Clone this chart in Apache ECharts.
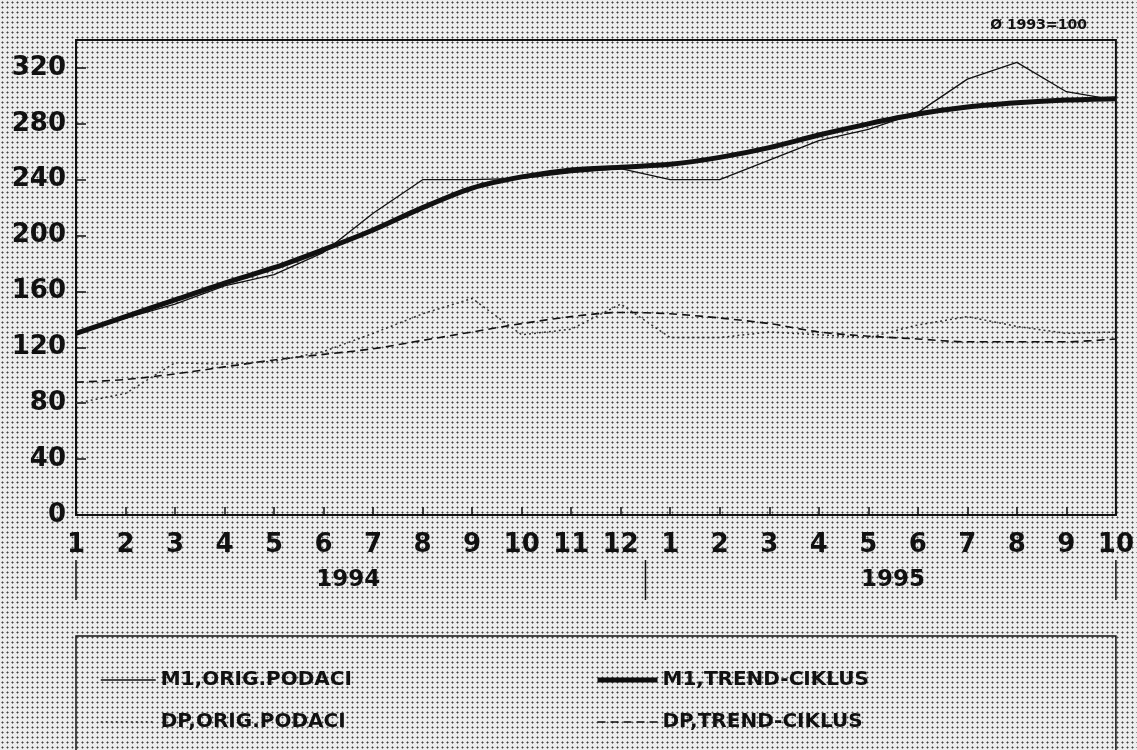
<!DOCTYPE html>
<html lang="hr">
<head>
<meta charset="utf-8">
<title>M1 i DP</title>
<style>
  html, body { margin: 0; padding: 0; }
  body {
    width: 1137px; height: 750px; overflow: hidden;
    background-color: #ededed;
    background-image: radial-gradient(circle, #444 0.75px, transparent 1.3px);
    background-size: 5px 5px;
  }
  #chart { width: 1137px; height: 750px; }
</style>
</head>
<body>
<div id="chart"></div>
<script src="https://cdn.jsdelivr.net/npm/echarts@6/dist/echarts.min.js"></script>
<script>
// months Jan 1994 .. Oct 1995
var months = ['1','2','3','4','5','6','7','8','9','10','11','12',
              '1','2','3','4','5','6','7','8','9','10'];
var years = ['1994', '1995'];

// index, average 1993 = 100
var m1Orig  = [130, 141, 151, 164, 172, 188, 216, 240, 240, 241, 245, 248,
               240, 240, 254, 268, 276, 288, 312, 324, 303, 297];
var m1Trend = [130, 142, 154, 166, 177, 190, 204, 220, 234, 242, 247, 249,
               251, 256, 263, 272, 280, 287, 292, 295, 297, 298];
var dpOrig  = [80, 87, 109, 108, 110, 117, 130, 144, 155, 129, 133, 151,
               127, 127, 131, 129, 127, 136, 142, 135, 130, 131];
var dpTrend = [95, 97, 101, 106, 111, 115, 119, 125, 131, 137, 142, 145,
               144, 141, 137, 131, 128, 126, 124, 124, 124, 126];

var FONT = 'DejaVu Sans';
var INK = '#111';

var styles = {
    m1Orig:  { color: INK, width: 1.3, type: 'solid' },
    m1Trend: { color: INK, width: 5, type: 'solid' },
    dpOrig:  { color: '#333', width: 1.5, type: [2, 3] },
    dpTrend: { color: INK, width: 1.6, type: [8, 5] }
};

var legendText = { fontFamily: FONT, fontSize: 20, fontWeight: 'bold', color: INK };

var myChart = echarts.init(document.getElementById('chart'));
var option = {
    backgroundColor: 'transparent',
    animation: false,
    color: [INK, INK, '#333', INK],
    title: {
        text: 'Ø 1993=100',
        right: 45, top: 13,
        textStyle: { fontFamily: FONT, fontSize: 14, fontWeight: 'bold', color: INK }
    },
    grid: {
        left: 76, right: 20, top: 40, bottom: 235,
        show: true, borderColor: INK, borderWidth: 2, backgroundColor: 'transparent'
    },
    legend: [
        {
            left: 95, top: 665, orient: 'vertical', itemGap: 22,
            itemWidth: 55, itemHeight: 14,
            itemStyle: { opacity: 0 },
            data: [
                { name: 'M1,ORIG.PODACI', lineStyle: styles.m1Orig },
                { name: 'DP,ORIG.PODACI', lineStyle: styles.dpOrig }
            ],
            textStyle: legendText
        },
        {
            left: 590, top: 665, orient: 'vertical', itemGap: 22,
            itemWidth: 60, itemHeight: 14,
            itemStyle: { opacity: 0 },
            data: [
                { name: 'M1,TREND-CIKLUS', lineStyle: styles.m1Trend },
                { name: 'DP,TREND-CIKLUS', lineStyle: styles.dpTrend }
            ],
            textStyle: legendText
        }
    ],
    xAxis: {
        type: 'category',
        data: months,
        boundaryGap: false,
        axisLine: { lineStyle: { color: INK, width: 2 } },
        axisTick: { inside: true, length: 8, lineStyle: { color: INK, width: 1.5 } },
        axisLabel: {
            margin: 17, interval: 0, color: INK,
            fontFamily: FONT, fontSize: 26, fontWeight: 'bold'
        },
        splitLine: { show: false }
    },
    yAxis: {
        type: 'value',
        min: 0, max: 340, interval: 40,
        axisLine: { show: true, lineStyle: { color: INK, width: 2 } },
        axisTick: { show: true, inside: true, length: 10, lineStyle: { color: INK, width: 1.5 } },
        axisLabel: {
            margin: 10, color: INK,
            fontFamily: FONT, fontSize: 26, fontWeight: 'bold',
            formatter: function (v) { return v % 40 === 0 && v <= 320 ? String(v) : ''; }
        },
        splitLine: { show: false }
    },
    series: [
        {
            name: 'M1,ORIG.PODACI', type: 'line', data: m1Orig,
            symbol: 'none', z: 3,
            itemStyle: { color: INK },
            lineStyle: styles.m1Orig
        },
        {
            name: 'M1,TREND-CIKLUS', type: 'line', data: m1Trend,
            symbol: 'none', smooth: 0.3, z: 2,
            itemStyle: { color: INK },
            lineStyle: styles.m1Trend
        },
        {
            name: 'DP,ORIG.PODACI', type: 'line', data: dpOrig,
            symbol: 'none', z: 3,
            itemStyle: { color: '#333' },
            lineStyle: styles.dpOrig
        },
        {
            name: 'DP,TREND-CIKLUS', type: 'line', data: dpTrend,
            symbol: 'none', smooth: 0.3, z: 2,
            itemStyle: { color: INK },
            lineStyle: styles.dpTrend
        }
    ]
};
myChart.setOption(option);

// year labels and separators under the month labels
var px = function (i) { return myChart.convertToPixel({ xAxisIndex: 0 }, i); };
var xStart = px(0), xEnd = px(months.length - 1);
var xSplit = (px(11) + px(12)) / 2;
var sepStyle = { stroke: INK, lineWidth: 1.5 };
var yearStyle = { fontFamily: FONT, fontSize: 23, fontWeight: 'bold',
                  fill: INK, align: 'center', verticalAlign: 'middle' };
myChart.setOption({
    graphic: [
        { type: 'line', shape: { x1: xStart, y1: 560, x2: xStart, y2: 600 }, style: sepStyle },
        { type: 'line', shape: { x1: xSplit, y1: 560, x2: xSplit, y2: 600 }, style: sepStyle },
        { type: 'line', shape: { x1: xEnd, y1: 560, x2: xEnd, y2: 600 }, style: sepStyle },
        {
            type: 'text', x: (px(0) + px(11)) / 2, y: 580,
            style: Object.assign({ text: years[0] }, yearStyle)
        },
        {
            type: 'text', x: (px(12) + px(21)) / 2, y: 580,
            style: Object.assign({ text: years[1] }, yearStyle)
        },
        {
            type: 'rect', z: -1,
            shape: { x: xStart, y: 636, width: xEnd - xStart, height: 140 },
            style: { fill: 'transparent', stroke: INK, lineWidth: 1.5 }
        }
    ]
});
</script>
</body>
</html>
